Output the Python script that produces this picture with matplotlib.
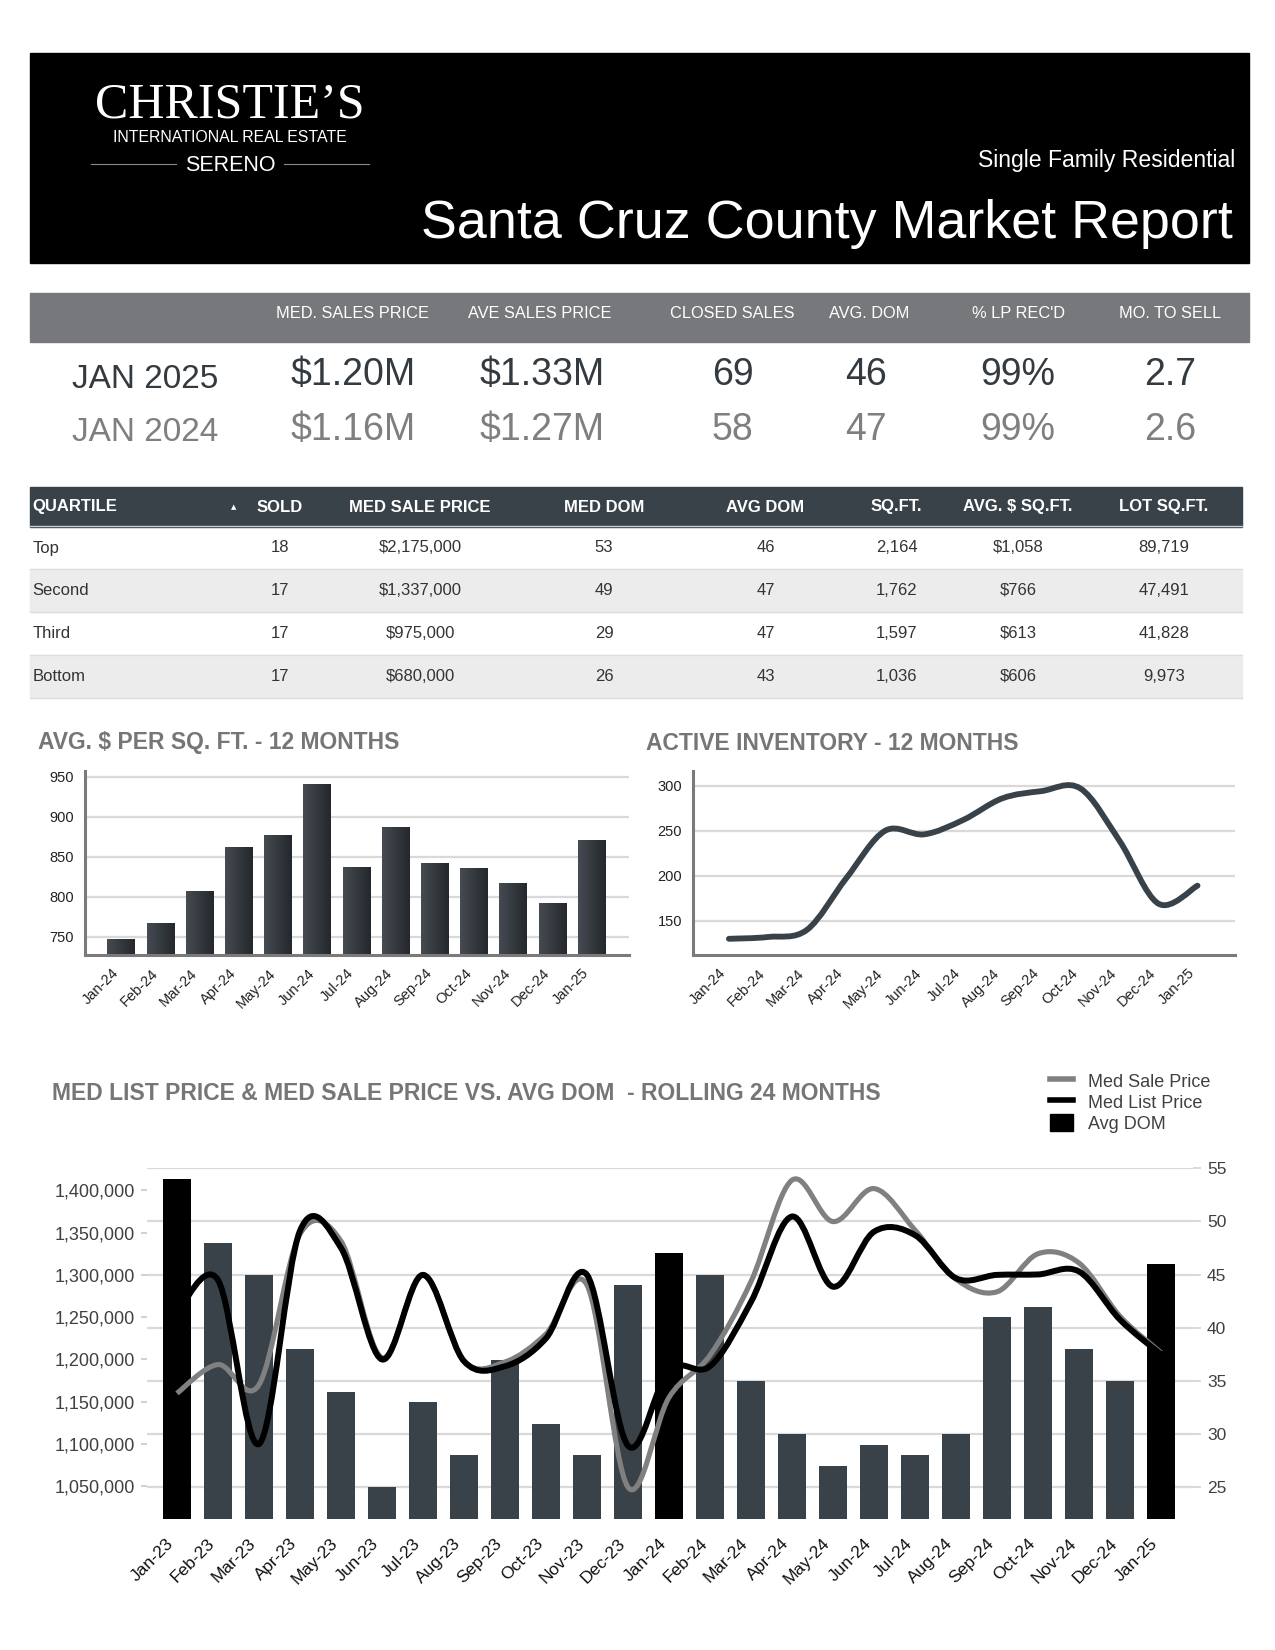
import matplotlib
matplotlib.use("Agg")
import matplotlib.pyplot as plt
import numpy as np
from matplotlib.path import Path
from matplotlib.patches import Rectangle, PathPatch, Patch
from matplotlib.lines import Line2D
from matplotlib.colors import LinearSegmentedColormap
from matplotlib.ticker import FuncFormatter

plt.rcParams['font.family'] = ['Liberation Sans', 'DejaVu Sans']

# ---- data ----
summary_headers = ['MED. SALES PRICE', 'AVE SALES PRICE', 'CLOSED SALES', 'AVG. DOM', "% LP REC'D", 'MO. TO SELL']
jan_2025 = ['$1.20M', '$1.33M', '69', '46', '99%', '2.7']
jan_2024 = ['$1.16M', '$1.27M', '58', '47', '99%', '2.6']

quartile_headers = ['SOLD', 'MED SALE PRICE', 'MED DOM', 'AVG DOM', 'SQ.FT.', 'AVG. $ SQ.FT.', 'LOT SQ.FT.']
quartiles = ['Top', 'Second', 'Third', 'Bottom']
sold = ['18', '17', '17', '17']
med_sale_price = ['$2,175,000', '$1,337,000', '$975,000', '$680,000']
med_dom = ['53', '49', '29', '26']
avg_dom_q = ['46', '47', '47', '43']
sqft = ['2,164', '1,762', '1,597', '1,036']
avg_psf_q = ['$1,058', '$766', '$613', '$606']
lot_sqft = ['89,719', '47,491', '41,828', '9,973']

months12 = ['Jan-24', 'Feb-24', 'Mar-24', 'Apr-24', 'May-24', 'Jun-24', 'Jul-24',
            'Aug-24', 'Sep-24', 'Oct-24', 'Nov-24', 'Dec-24', 'Jan-25']
price_per_sqft = [747, 767, 807, 861, 877, 940, 837, 886, 842, 835, 817, 792, 870]
active_inventory = [130, 132, 140, 197, 250, 246, 262, 286, 294, 297, 239, 169, 189]

months24 = ['Jan-23', 'Feb-23', 'Mar-23', 'Apr-23', 'May-23', 'Jun-23', 'Jul-23', 'Aug-23',
            'Sep-23', 'Oct-23', 'Nov-23', 'Dec-23', 'Jan-24', 'Feb-24', 'Mar-24', 'Apr-24',
            'May-24', 'Jun-24', 'Jul-24', 'Aug-24', 'Sep-24', 'Oct-24', 'Nov-24', 'Dec-24', 'Jan-25']
avg_dom = [54, 48, 45, 38, 34, 25, 33, 28, 37, 31, 28, 44, 47, 45, 35, 30, 27, 29, 28, 30, 41, 42, 38, 35, 46]
med_list_price = [1255000, 1294000, 1100000, 1352000, 1332000, 1200000, 1300000, 1198000,
                  1192000, 1225000, 1300000, 1098000, 1188000, 1192000, 1268000, 1369000,
                  1286000, 1351000, 1347000, 1296000, 1300000, 1300500, 1304000, 1247000, 1206000]
med_sale_price_24 = [1160000, 1194000, 1170000, 1348000, 1340000, 1202000, 1300000, 1198000,
                     1197000, 1230000, 1288000, 1049000, 1155000, 1205000, 1292000, 1412000,
                     1363000, 1402000, 1353000, 1295000, 1280000, 1325000, 1314000, 1251000, 1208000]

W, H = 1275, 1650
fig = plt.figure(figsize=(W / 100, H / 100), dpi=100, facecolor='white')

def px_axes(x0, y0, x1, y1):
    return fig.add_axes([x0 / W, 1 - y1 / H, (x1 - x0) / W, (y1 - y0) / H])

def smooth_path(xs, ys):  # Excel-like smoothed line as bezier segments
    pts = np.column_stack([xs, ys]).astype(float)
    n = len(pts)
    verts, codes = [pts[0]], [Path.MOVETO]
    for i in range(n - 1):
        p0 = pts[i - 1] if i > 0 else pts[i]
        p1, p2 = pts[i], pts[i + 1]
        p3 = pts[i + 2] if i + 2 < n else pts[i + 1]
        verts += [p1 + (p2 - p0) / 6, p2 - (p3 - p1) / 6, p2]
        codes += [Path.CURVE4] * 3
    return Path(verts, codes)

# ---- page layer (pixel coordinates) ----
page = fig.add_axes([0, 0, 1, 1])
page.set_xlim(0, W)
page.set_ylim(H, 0)
page.axis('off')

page.add_patch(Rectangle((29.5, 53), 1219.5, 210, color='black'))
page.text(230, 117, 'CHRISTIE\u2019S', color='white', fontsize=36, family='Liberation Serif',
          ha='center', va='baseline')
page.text(230, 142, 'INTERNATIONAL REAL ESTATE', color='white', fontsize=11.4, ha='center', va='baseline')
page.text(230, 171, 'SERENO', color='white', fontsize=15.5, ha='center', va='baseline')
page.plot([91, 176], [164, 164], color='#8a8a8a', lw=0.8)
page.plot([284, 369], [164, 164], color='#8a8a8a', lw=0.8)
page.text(1235, 167, 'Single Family Residential', color='white', fontsize=16.6, ha='right', va='baseline')
page.text(1233, 238, 'Santa Cruz County Market Report', color='white', fontsize=38.8,
          ha='right', va='baseline')

# summary table
page.add_patch(Rectangle((29.5, 293), 1219.5, 49, color='#77787b'))
sum_x = [353, 540, 732.5, 869.5, 1018, 1170]
val_x = [353, 542, 732.5, 866, 1018, 1170]
for x, lab in zip(sum_x, summary_headers):
    page.text(x, 313, lab, color='white', fontsize=11.8, ha='center', va='center')
page.text(145, 388, 'JAN 2025', color='#333a40', fontsize=24, ha='center', va='baseline')
page.text(145, 441, 'JAN 2024', color='#7f7f7f', fontsize=24, ha='center', va='baseline')
for x, v1, v2 in zip(val_x, jan_2025, jan_2024):
    page.text(x, 385, v1, color='#333a40', fontsize=27, ha='center', va='baseline')
    page.text(x, 440, v2, color='#7f7f7f', fontsize=27, ha='center', va='baseline')

# quartile table
page.add_patch(Rectangle((29.5, 487), 1212, 40, color='#394249'))
page.plot([29.5, 1241.5], [525.5, 525.5], color='#c9ced2', lw=1)
q_x = [279.6, 420, 604, 765.5, 896.5, 1018, 1164]
page.text(32.6, 507, 'QUARTILE', color='white', fontsize=12, weight='bold', ha='left', va='center')
page.text(234, 507, '\u25b2', color='white', fontsize=5, ha='center', va='center',
          family=['DejaVu Sans'])
for x, lab in zip(q_x, quartile_headers):
    page.text(x, 507, lab, color='white', fontsize=12, weight='bold', ha='center', va='center')
row_edges = [527, 569, 612, 654.5, 697.7]
columns = [sold, med_sale_price, med_dom, avg_dom_q, sqft, avg_psf_q, lot_sqft]
for i, name in enumerate(quartiles):
    top, bot = row_edges[i], row_edges[i + 1]
    if i % 2 == 1:
        page.add_patch(Rectangle((29.5, top), 1212, bot - top, color='#ececec'))
    page.plot([29.5, 1241.5], [bot, bot], color='#dedede', lw=1)
    yc = (top + bot) / 2
    page.text(32.6, yc, name, color='#333333', fontsize=12, ha='left', va='center')
    for x, col in zip(q_x, columns):
        page.text(x, yc, col[i], color='#333333', fontsize=12, ha='center', va='center')

title_color = '#767676'
page.text(38, 743, 'AVG. $ PER SQ. FT. - 12 MONTHS', color=title_color, fontsize=16.5,
          weight='bold', ha='left', va='center')
page.text(646, 743, 'ACTIVE INVENTORY - 12 MONTHS', color=title_color, fontsize=16.5,
          weight='bold', ha='left', va='center')
page.text(52, 1093, 'MED LIST PRICE & MED SALE PRICE VS. AVG DOM  - ROLLING 24 MONTHS',
          color=title_color, fontsize=16.5, weight='bold', ha='left', va='center')

grid_c = '#d9d9d9'
spine_c = '#7a7a7a'
bar_dark = '#394249'

def style_small(ax):
    for s in ['top', 'right']:
        ax.spines[s].set_visible(False)
    for s in ['left', 'bottom']:
        ax.spines[s].set_color(spine_c)
        ax.spines[s].set_linewidth(2.2)
    ax.grid(axis='y', color=grid_c, lw=1.6)
    ax.set_axisbelow(True)
    ax.tick_params(axis='both', length=0, colors='#222222')
    ax.tick_params(axis='y', labelsize=10.5, pad=8)
    ax.tick_params(axis='x', labelsize=10.5, pad=8)
    ax.patch.set_alpha(0)

# ---- chart 1: avg $ per sq ft ----
ax1 = px_axes(85.2, 770.7, 629, 955)
x12 = np.arange(len(months12))
ax1.set_xlim(-0.92, 12.95)
ax1.set_ylim(727, 957.5)
bars = ax1.bar(x12, price_per_sqft, width=0.71, color='none', zorder=2)
grad_cmap = LinearSegmentedColormap.from_list('g', ['#454b51', '#24282c'])
grad = np.linspace(0, 1, 64).reshape(1, -1)
y_low = ax1.get_ylim()[0]
for r in bars:
    ax1.imshow(grad, extent=(r.get_x(), r.get_x() + r.get_width(), y_low, r.get_height()),
               aspect='auto', cmap=grad_cmap, zorder=2)
ax1.set_xlim(-0.92, 12.95)
ax1.set_ylim(727, 957.5)
ax1.set_yticks([750, 800, 850, 900, 950])
ax1.set_xticks(x12)
ax1.set_xticklabels(months12, rotation=45, ha='right')
style_small(ax1)

# ---- chart 2: active inventory ----
ax2 = px_axes(693, 770.7, 1235, 955)
ax2.add_patch(PathPatch(smooth_path(x12, active_inventory), fill=False, edgecolor=bar_dark,
                        lw=4.2, capstyle='round', joinstyle='round', zorder=3))
ax2.set_xlim(-0.92, 12.96)
ax2.set_ylim(112, 316.7)
ax2.set_yticks([150, 200, 250, 300])
ax2.set_xticks(x12)
ax2.set_xticklabels(months12, rotation=45, ha='right')
style_small(ax2)

# ---- chart 3: rolling 24 months ----
ax3 = px_axes(147, 1168.3, 1193, 1519.3)
x24 = np.arange(len(months24))
bar_colors = ['black' if m.startswith('Jan') else bar_dark for m in months24]
ax3.bar(x24, avg_dom, width=0.67, color=bar_colors, zorder=2)
ax3.set_xlim(-0.73, 24.78)
ax3.set_ylim(22, 55)
ax3.set_yticks([25, 30, 35, 40, 45, 50, 55])
ax3.grid(axis='y', color=grid_c, lw=1.6)
ax3.set_axisbelow(True)
ax3.set_xticks(x24)
ax3.set_xticklabels(months24, rotation=45, ha='right')
ax3.tick_params(axis='x', length=0, labelsize=12.5, pad=12, colors='#111111')
for s in ax3.spines.values():
    s.set_visible(False)

ax3l = ax3.twinx()
ax3.yaxis.tick_right()
ax3.tick_params(axis='y', length=6, color=grid_c, width=1.4, labelsize=12.5, pad=4,
                labelcolor='#404040')
ax3l.yaxis.tick_left()
ax3l.yaxis.set_label_position('left')
ax3l.set_ylim(1011000, 1426000)
ax3l.set_yticks(np.arange(1050000, 1400001, 50000))
ax3l.yaxis.set_major_formatter(FuncFormatter(lambda v, p: f'{v:,.0f}'))
ax3l.tick_params(axis='y', length=4, color='#c8c8c8', width=1.2, labelsize=13, pad=5,
                 labelcolor='#404040')
for s in ax3l.spines.values():
    s.set_visible(False)
ax3l.add_patch(PathPatch(smooth_path(x24, med_sale_price_24), fill=False, edgecolor='#808080',
                         lw=3.7, capstyle='butt', joinstyle='round', zorder=3))
ax3l.add_patch(PathPatch(smooth_path(x24, med_list_price), fill=False, edgecolor='black',
                         lw=4.3, capstyle='butt', joinstyle='round', zorder=4))

handles = [Line2D([], [], color='#808080', lw=4),
           Line2D([], [], color='black', lw=4),
           Patch(facecolor='black', edgecolor='black')]
fig.legend(handles, ['Med Sale Price', 'Med List Price', 'Avg DOM'], loc='upper left',
           bbox_to_anchor=(1050 / W, 1 - 1072 / H), bbox_transform=fig.transFigure,
           frameon=False, fontsize=13, handlelength=1.3, handleheight=1.1,
           handletextpad=0.8, labelspacing=0.12, borderpad=0, borderaxespad=0,
           labelcolor='#404040')

fig.savefig('out.png', dpi=100, facecolor='white')
